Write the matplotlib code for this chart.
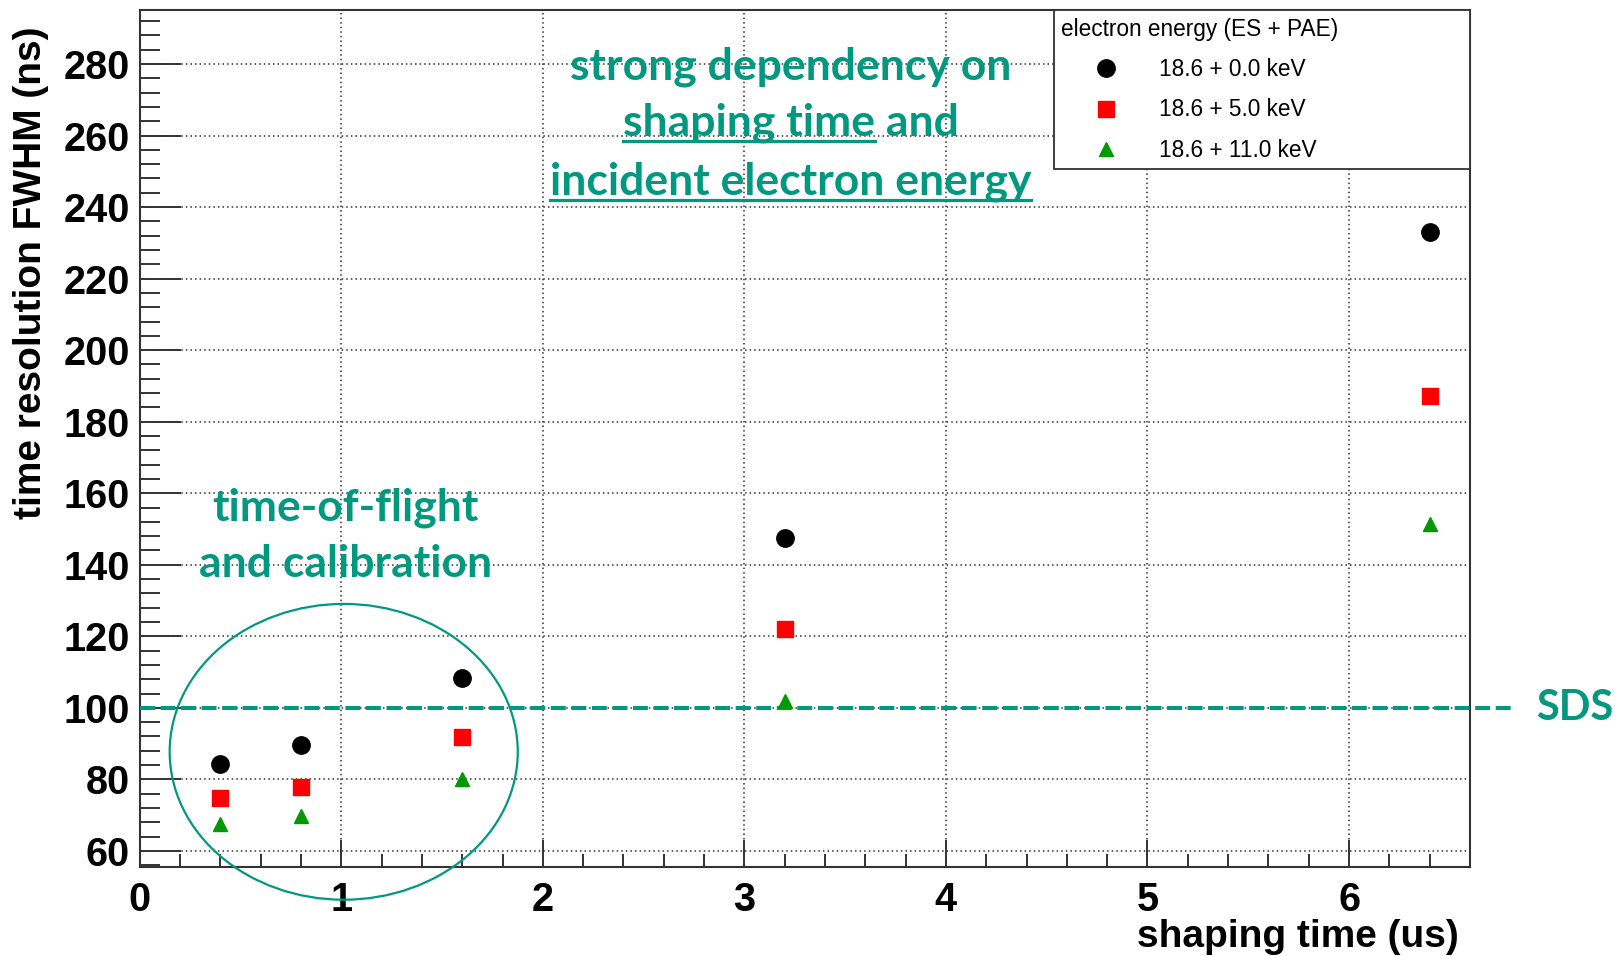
import matplotlib
matplotlib.use("Agg")
import matplotlib.pyplot as plt
from matplotlib.patches import Ellipse
from matplotlib.lines import Line2D
from matplotlib.ticker import MultipleLocator

# shaping time (us) and FWHM time resolution (ns) per electron energy
shaping = [0.4, 0.8, 1.6, 3.2, 6.4]
fwhm_0 = [84.3, 89.5, 108.3, 147.6, 232.9]
fwhm_5 = [74.7, 77.9, 91.8, 121.9, 187.2]
fwhm_11 = [67.5, 69.8, 80.0, 102.0, 151.4]
labels = ["18.6 + 0.0 keV", "18.6 + 5.0 keV", "18.6 + 11.0 keV"]
sds_level = 100

teal = "#009980"
note_font = ["Lato", "DejaVu Sans"]
note_size = 32

plt.rcParams["font.family"] = ["Liberation Sans", "DejaVu Sans"]

fig = plt.figure(figsize=(16.23, 9.56), dpi=100)
ax = fig.add_axes([0.0861, 0.0931, 0.8196, 0.8961])

ax.set_xlim(0, 6.6)
ax.set_ylim(55.5, 295)

ax.plot(shaping, fwhm_0, "o", color="black", ms=12.5, ls="none", label=labels[0], zorder=5)
ax.plot(shaping, fwhm_5, "s", color="#ff0000", ms=11.5, ls="none", label=labels[1], zorder=5)
ax.plot(shaping, fwhm_11, "^", color="#009900", ms=10.5, ls="none", label=labels[2], zorder=5)

# ticks, ROOT style
ax.xaxis.set_major_locator(MultipleLocator(1))
ax.xaxis.set_minor_locator(MultipleLocator(0.2))
ax.yaxis.set_major_locator(MultipleLocator(20))
ax.yaxis.set_minor_locator(MultipleLocator(4))
ax.tick_params(axis="y", which="major", direction="in", length=29.5, width=1.4, color="#333333",
               labelsize=28.5, pad=7)
ax.tick_params(axis="y", which="minor", direction="in", length=14.4, width=1.4, color="#333333")
ax.tick_params(axis="x", which="major", direction="in", length=19.4, width=1.4, color="#333333",
               labelsize=28.5, pad=10)
ax.tick_params(axis="x", which="minor", direction="in", length=9.4, width=1.4, color="#333333")
ax.set_xticks([0, 1, 2, 3, 4, 5, 6])
ax.set_xticklabels(["0", "1", "2", "3", "4", "5", "6"])
for lab in ax.get_xticklabels() + ax.get_yticklabels():
    lab.set_fontweight("bold")

ax.grid(True, which="major", color="#333333", linestyle=(0, (1, 2)), linewidth=1.1)
ax.set_axisbelow(True)
for s in ax.spines.values():
    s.set_linewidth(1.5)
    s.set_color("#333333")

ax.set_xlabel("shaping time (us)", fontsize=28, fontweight="bold", ha="right", va="center")
ax.xaxis.set_label_coords(0.9917, -0.0817)
ax.set_ylabel("time resolution FWHM (ns)", fontsize=28, fontweight="bold", ha="right", va="center")
ax.yaxis.set_label_coords(-0.0817, 0.9817)

# legend box in the top right corner
leg = ax.legend(loc="upper right", bbox_to_anchor=(0.687, 0.812, 0.313, 0.188), mode="expand",
                borderaxespad=0, fontsize=16.3, title="electron energy (ES + PAE)",
                title_fontsize=16.3, alignment="left", handlelength=3.95, handletextpad=0.38,
                labelspacing=0.76, borderpad=0.34, fancybox=False, framealpha=1,
                edgecolor="#333333")
leg.get_frame().set_linewidth(1.3)

# SDS requirement line
ax.plot([0, 6.81], [sds_level, sds_level], color=teal, lw=2.9, dashes=(3.7, 1.4),
        clip_on=False, zorder=4)
ax.text(6.93, sds_level, "SDS", color=teal, fontsize=30, fontweight="bold",
        family=note_font, va="center", ha="left")

# time-of-flight region
ax.add_patch(Ellipse((1.012, 87.7), 1.727, 82.7, fill=False, edgecolor=teal, lw=1.6,
                     clip_on=False, zorder=4))
ax.text(1.02, 156.0, "time-of-flight", color=teal, fontsize=note_size, fontweight="bold",
        family=note_font, ha="center", va="center")
ax.text(1.02, 140.3, "and calibration", color=teal, fontsize=note_size, fontweight="bold",
        family=note_font, ha="center", va="center")

# dependency note with underlined parts
note_kw = dict(color=teal, fontsize=note_size, fontweight="bold", family=note_font,
               ha="center", va="baseline")
t1 = ax.text(3.23, 275.8, "strong dependency on", **note_kw)
t2 = ax.text(3.23, 260.0, "shaping time and", **note_kw)
t3 = ax.text(3.23, 243.4, "incident electron energy", **note_kw)

fig.canvas.draw()
r = fig.canvas.get_renderer()
inv = fig.transFigure.inverted()


def underline(txt, part):
    bb = txt.get_window_extent(r)
    probe = fig.text(0, 0, part, fontsize=note_size, fontweight="bold", family=note_font)
    w = probe.get_window_extent(r).width
    probe.remove()
    base = ax.transData.transform(txt.get_position())[1]
    y = base - 5
    (x0, yf), (x1, _) = inv.transform([(bb.x0, y), (bb.x0 + w, y)])
    fig.add_artist(Line2D([x0, x1], [yf, yf], color=teal, lw=2.3))


underline(t2, "shaping time")
underline(t3, "incident electron energy")

fig.savefig("out.png", dpi=100)
